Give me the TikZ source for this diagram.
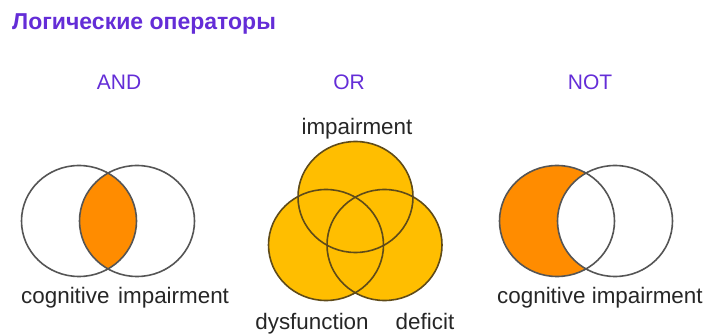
\documentclass[tikz,border=0pt]{standalone}
\usepackage{fontspec}
\setmainfont{Liberation Sans}
\usetikzlibrary{positioning}
\definecolor{titleviolet}{RGB}{100,45,215}
\definecolor{venngray}{RGB}{85,85,85}
\definecolor{vennorange}{RGB}{255,140,0}
\definecolor{venngold}{RGB}{255,190,0}
\definecolor{vennbrown}{RGB}{95,75,25}
\tikzset{
  optitle/.style={font=\fontsize{21}{24}\selectfont, text=titleviolet, inner sep=0pt, anchor=base},
  setlabel/.style={font=\fontsize{22.4}{26}\selectfont, text=black!85, inner sep=0pt, anchor=base west},
  ring/.style={draw=venngray, line width=1.6pt},
  goldring/.style={draw=vennbrown, line width=1.6pt},
  set/.style={x radius=57.5, y radius=55.5}
}

\begin{document}
\begin{tikzpicture}[x=1pt, y=-1pt]
    \useasboundingbox (0,0) rectangle (704,336);

    % Title
    \node[anchor=base west, inner sep=0pt, text=titleviolet, font=\bfseries\fontsize{23}{27}\selectfont] (title) at (12,30) {Логические операторы};

    % Operator names
    \node[optitle] (andname) at (119,90) {AND};
    \node[optitle] (orname) at (349,90) {OR};
    \node[optitle] (notname) at (590,90) {NOT};

    % AND: intersection
    \coordinate (andL) at (79,221);
    \coordinate (andR) at (137,221);
    \begin{scope}
        \clip (andL) ellipse [set];
        \fill[vennorange] (andR) ellipse [set];
    \end{scope}
    \draw[ring] (andL) ellipse [set];
    \draw[ring] (andR) ellipse [set];
    \node[setlabel] (andA) at (21,304) {cognitive};
    \node[setlabel] (andB) at (118,304) {impairment};

    % OR: union of three sets
    \coordinate (orT) at (355.5,197);
    \coordinate (orL) at (326,245);
    \coordinate (orR) at (384.5,245);
    \fill[venngold] (orT) ellipse [set] (orL) ellipse [set] (orR) ellipse [set];
    \draw[goldring] (orT) ellipse [set];
    \draw[goldring] (orL) ellipse [set];
    \draw[goldring] (orR) ellipse [set];
    \node[setlabel, anchor=base] (orA) at (357,135) {impairment};
    \node[setlabel, anchor=base] (orB) at (312,330) {dysfunction};
    \node[setlabel, anchor=base] (orC) at (425,330) {deficit};

    % NOT: difference
    \coordinate (notL) at (557,221);
    \coordinate (notR) at (615,221);
    \begin{scope}
        \clip (notL) ellipse [set];
        \fill[vennorange, even odd rule] (notL) ellipse [set] (notR) ellipse [set];
    \end{scope}
    \draw[ring] (notL) ellipse [set];
    \draw[ring] (notR) ellipse [set];
    \node[setlabel] (notA) at (497,304) {cognitive impairment};
\end{tikzpicture}
\end{document}
